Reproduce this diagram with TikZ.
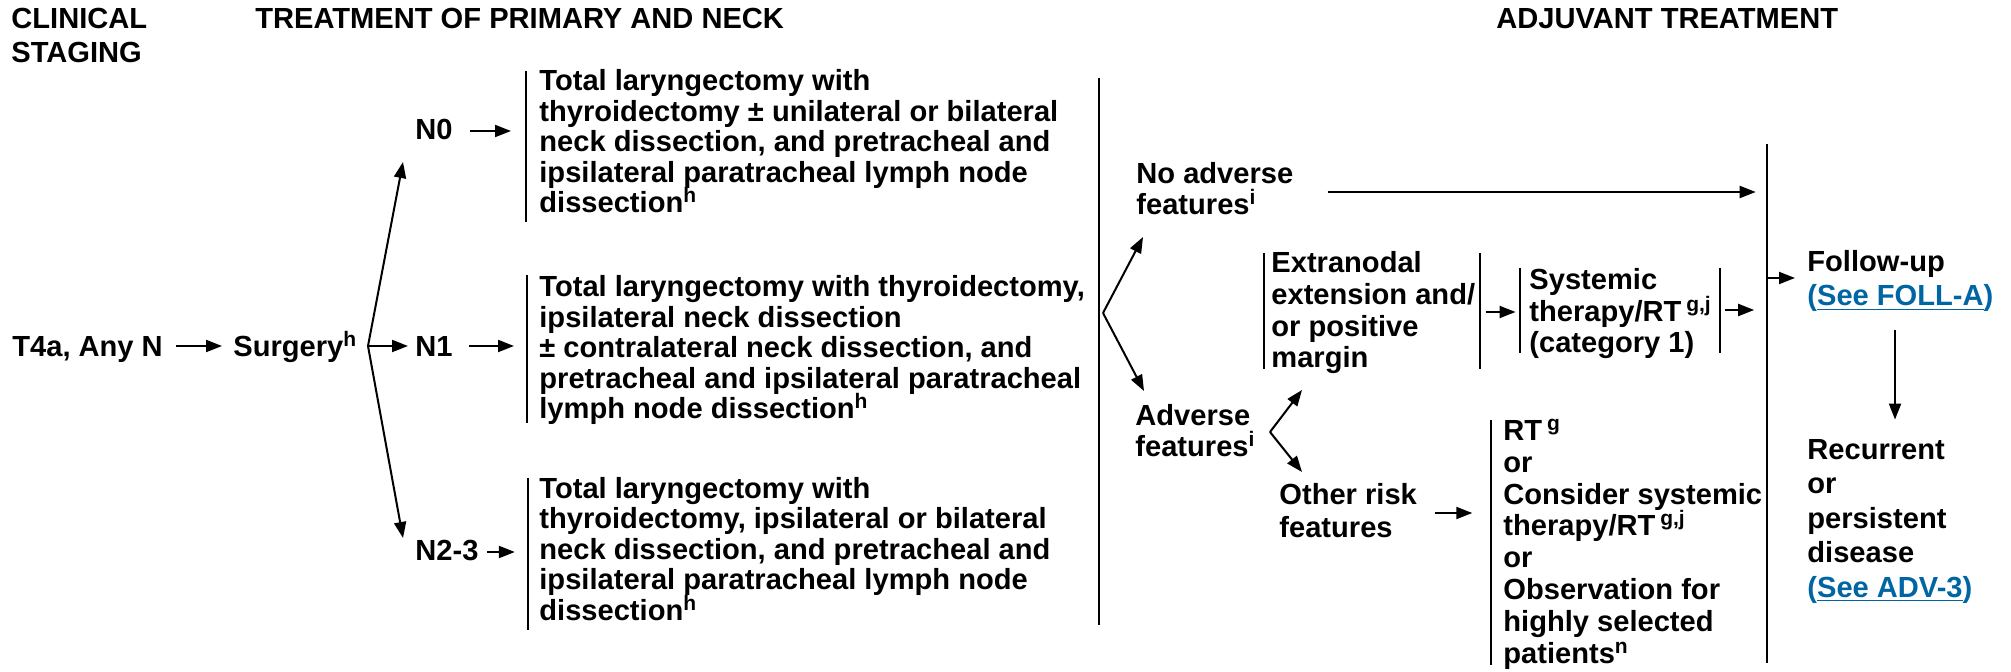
\documentclass[tikz,border=0pt]{standalone}
\usepackage{fontspec}
\setmainfont{Liberation Sans}
\usetikzlibrary{arrows.meta}
\definecolor{linkblue}{RGB}{0,101,163}
% raised footnote letters that do not disturb the line spacing
\newcommand\fnote[1]{\smash{\raisebox{5pt}{\fontsize{10.5}{10.5}\selectfont #1}}}
\newcommand\seelink[1]{\textcolor{linkblue}{(\underline{#1})}}
\begin{document}
\lineskiplimit=-20pt
% nodes are placed by the baseline of their last line
\begin{tikzpicture}[x=0.5pt,y=-0.5pt,
  txt/.style={anchor=base west, inner sep=0pt, align=left,
    font=\fontsize{14.55}{15.25}\selectfont\bfseries},
  txtB/.style={txt, font=\fontsize{14.55}{15.9}\selectfont\bfseries},
  txtC/.style={txt, font=\fontsize{14.55}{17.25}\selectfont\bfseries},
  bar/.style={line width=1.2pt},
  arr/.style={line width=1pt, -{Triangle[length=8pt,width=6pt]}},
]
\useasboundingbox (0,0) rectangle (2011,672);

% column headings
\node[txt, font=\fontsize{14.55}{17}\selectfont\bfseries] (hstage) at (11,63) {CLINICAL\\STAGING};
\node[txt] (htreat) at (255,29) {TREATMENT OF PRIMARY AND NECK};
\node[txt] (hadj) at (1496,29) {ADJUVANT TREATMENT};

% staging and surgery
\node[txt] (stage) at (12,357) {T4a, Any N};
\node[txt] (surg) at (233,357) {Surgery\fnote{h}};
\coordinate (fanA) at (368,346);
\node[txt] (n0) at (415,140) {N0};
\node[txt] (n1) at (415,357) {N1};
\node[txt] (n23) at (415,560) {N2-3};

\draw[arr] ([xshift=6.5pt,yshift=5.5pt]stage.base east) -- ([xshift=-5.5pt,yshift=5.5pt]surg.base west);
\draw[arr] (fanA) -- ([xshift=-6pt,yshift=-11pt]n0.base west);
\draw[arr] (fanA) -- ([xshift=-3.5pt,yshift=5.5pt]n1.base west);
\draw[arr] (fanA) -- ([xshift=-6pt,yshift=11pt]n23.base west);

% surgical procedures
\node[txt] (blkA) at (539,213) {Total laryngectomy with\\thyroidectomy \char"00B1{} unilateral or bilateral\\neck dissection, and pretracheal and\\ipsilateral paratracheal lymph node\\dissection\fnote{h}};
\node[txt] (blkB) at (539,419) {Total laryngectomy with thyroidectomy,\\ipsilateral neck dissection\\\char"00B1{} contralateral neck dissection, and\\pretracheal and ipsilateral paratracheal\\lymph node dissection\fnote{h}};
\node[txt] (blkC) at (539,620) {Total laryngectomy with\\thyroidectomy, ipsilateral or bilateral\\neck dissection, and pretracheal and\\ipsilateral paratracheal lymph node\\dissection\fnote{h}};
\draw[bar] (526,71) -- (526,222);
\draw[bar] (527,275) -- (527,423);
\draw[bar] (528,478) -- (528,630);

\draw[arr] ([xshift=8.5pt,yshift=4.5pt]n0.base east) -- ++(41,0);
\draw[arr] ([xshift=8pt,yshift=5.5pt]n1.base east) -- ++(45,0);
\draw[arr] ([xshift=4pt,yshift=4pt]n23.base east) -- ++(28,0);

% pathology findings
\draw[bar] (1099,78) -- (1099,625);
\coordinate (fanB) at (1103,313);
\node[txtB] (noadv) at (1136,215) {No adverse\\features\fnote{i}};
\node[txtB] (adv) at (1135,457) {Adverse\\features\fnote{i}};
\draw[arr] (fanB) -- ([xshift=3.5pt,yshift=-11pt]noadv.base west);
\draw[arr] (fanB) -- ([xshift=4.5pt,yshift=33pt]adv.base west);

\coordinate (fanC) at (1270,432);
\node[txtB] (extra) at (1271,368) {Extranodal\\extension and/\\or positive\\margin};
\node[txtB, font=\fontsize{14.55}{16.5}\selectfont\bfseries] (other) at (1279,538) {Other risk\\features};
\draw[arr] (fanC) -- ([xshift=15.5pt,yshift=-11pt]extra.base west);
\draw[arr] (fanC) -- ([xshift=11.5pt,yshift=33pt]other.base west);
\draw[bar] (1264,253) -- (1264,369);
\draw[bar] (1480,253) -- (1480,369);

% adjuvant options
\node[txtB] (sys) at (1529,353) {Systemic\\therapy/RT\,\fnote{g,j}\\(category 1)};
\draw[bar] (1520,268) -- (1520,353);
\draw[bar] (1720,268) -- (1720,353);
\draw[arr] ([xshift=5pt,yshift=28pt]extra.base east) -- ++(30,0);

\node[txtB] (rt) at (1503,663) {RT\,\fnote{g}\\or\\Consider systemic\\therapy/RT\,\fnote{g,j}\\or\\Observation for\\highly selected\\patients\fnote{n}};
\draw[bar] (1491,420) -- (1491,665);
\draw[arr] ([xshift=9pt,yshift=12.5pt]other.base east) -- ++(37,0);

% follow-up
\draw[bar] (1767,144) -- (1767,663);
\draw[arr] ([xshift=17pt,yshift=11.5pt]noadv.base east) -- ++(428,0);
\draw[arr] ([xshift=7pt,yshift=21.5pt]sys.base east) -- ++(29,0);
\node[txtC, font=\fontsize{14.55}{17}\selectfont\bfseries] (fu) at (1807,306) {Follow-up\\\seelink{See FOLL-A}};
\draw[arr] ([xshift=-20pt,yshift=14pt]fu.base west) -- ++(28,0);
\node[txtC] (rec) at (1807,597) {Recurrent\\or\\persistent\\disease\\\seelink{See ADV-3}};
\draw[arr] ([xshift=44pt,yshift=54.5pt]rec.north west) -- ([xshift=44pt,yshift=9.5pt]rec.north west);
\end{tikzpicture}
\end{document}
